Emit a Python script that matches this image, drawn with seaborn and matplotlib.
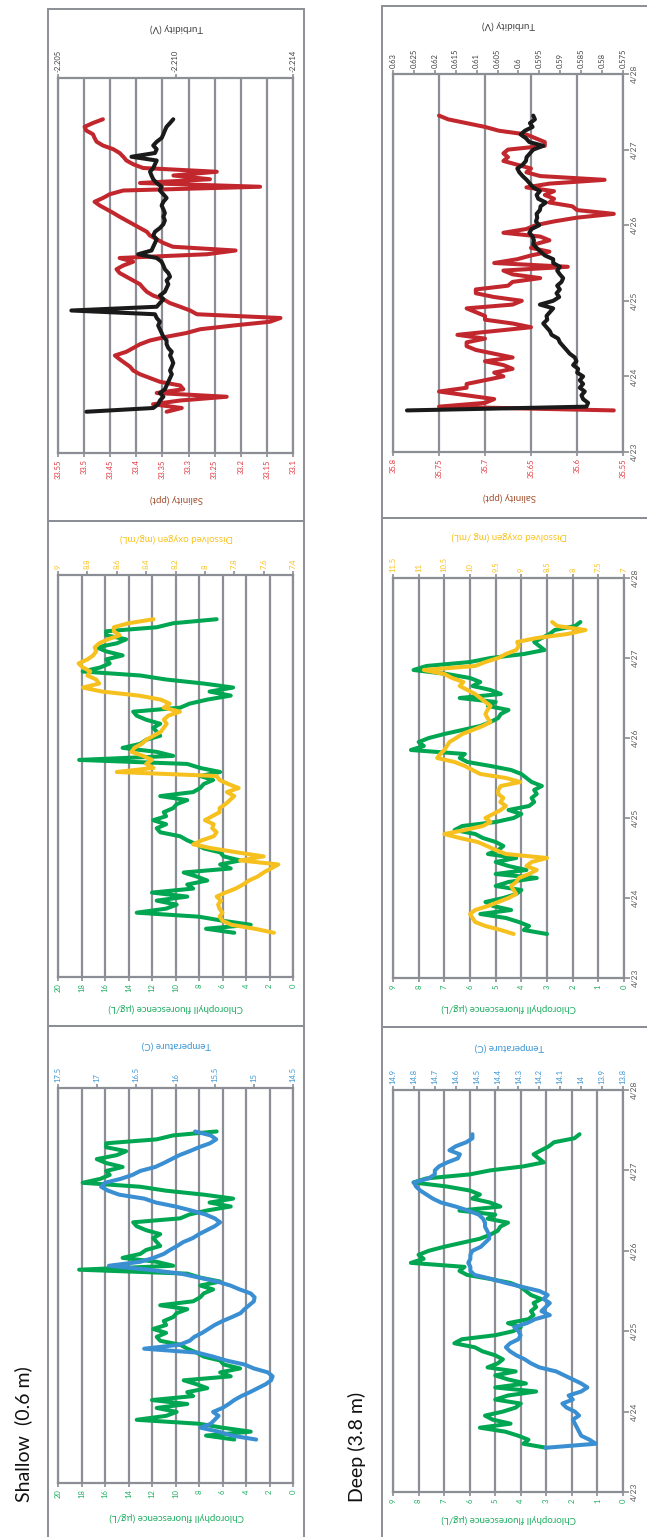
import numpy as np
import pandas as pd
import matplotlib
matplotlib.use("Agg")
import matplotlib.pyplot as plt
from matplotlib.patches import Rectangle
from matplotlib.ticker import FixedLocator, FixedFormatter
import seaborn as sns

sns.set_theme(style="white")
plt.rcParams["font.family"] = ["Lato", "DejaVu Sans"]

# logger readings, one every 72 min
times = pd.date_range("2013-04-23 13:12", periods=79, freq="72min")
date_ticks = pd.date_range("2013-04-23", "2013-04-28", freq="D")
date_labels = ["4/23", "4/24", "4/25", "4/26", "4/27", "4/28"]

# ---- shallow (0.6 m) ----
shallow_chl = [5.0, 7.4, 3.6, 6.0, 8.0, 13.3, 10.8, 9.9, 11.6, 9.0,
               12.0, 8.5, 9.0, 7.3, 8.2, 9.3, 5.3, 6.2, 4.5, 5.9,
               6.2, 7.6, 8.2, 9.0, 9.6, 11.3, 11.6, 10.8, 11.9, 10.8,
               11.0, 10.2, 9.9, 9.0, 11.3, 8.5, 7.9, 7.6, 6.8, 7.9,
               6.2, 7.9, 9.0, 18.2, 10.2, 11.6, 14.5, 13.0, 12.5, 11.3,
               11.6, 11.9, 11.3, 12.5, 13.3, 13.6, 9.6, 8.8, 7.3, 5.3,
               7.1, 5.1, 7.6, 10.8, 13.0, 17.9, 16.4, 15.6, 15.9, 14.5,
               15.9, 16.7, 15.0, 14.2, 15.9, 15.9, 11.6, 10.2, 6.5]
shallow_temp = [14.97, 15.28, 15.45, 15.68, 15.55, 15.5, 15.45, 15.52, 15.4, 15.32,
                15.25, 15.16, 15.05, 14.95, 14.85, 14.78, 14.76, 14.82, 15.0, 15.12,
                15.35, 15.52, 15.72, 16.4, 15.95, 15.82, 15.76, 15.66, 15.58, 15.5,
                15.4, 15.28, 15.17, 15.12, 15.06, 15.0, 14.99, 15.04, 15.18, 15.3,
                15.47, 15.7, 15.93, 16.35, 16.85, 16.45, 16.28, 16.15, 16.07, 15.98,
                15.9, 15.78, 15.7, 15.6, 15.5, 15.43, 15.5, 15.62, 15.8, 16.0,
                16.25, 16.4, 16.72, 16.86, 16.95, 16.9, 16.7, 16.55, 16.45, 16.26,
                16.15, 16.05, 15.95, 15.82, 15.7, 15.56, 15.48, 15.55, 15.75]
shallow_do = [7.53, 7.66, 7.82, 7.88, 7.9, 7.88, 7.9, 7.91, 7.89, 7.92,
              7.86, 7.79, 7.74, 7.7, 7.64, 7.6, 7.55, 7.5, 7.76, 7.6,
              7.78, 7.95, 8.08, 8.02, 7.94, 7.92, 7.95, 7.94, 8.0, 7.95,
              7.9, 7.9, 7.86, 7.83, 7.8, 7.85, 7.77, 7.84, 7.9, 7.92,
              8.6, 8.35, 8.4, 8.36, 8.42, 8.5, 8.48, 8.43, 8.4, 8.35,
              8.3, 8.28, 8.26, 8.28, 8.25, 8.17, 8.28, 8.24, 8.3, 8.45,
              8.7, 8.83, 8.72, 8.74, 8.8, 8.78, 8.83, 8.86, 8.8, 8.76,
              8.74, 8.75, 8.72, 8.66, 8.58, 8.62, 8.62, 8.52, 8.35]
shallow_sal = [33.342, 33.313, 33.368, 33.316, 33.227, 33.361, 33.31, 33.316, 33.355, 33.374,
               33.393, 33.406, 33.412, 33.422, 33.432, 33.441, 33.419, 33.406, 33.393, 33.374,
               33.342, 33.304, 33.278, 33.214, 33.144, 33.124, 33.284, 33.297, 33.316, 33.336,
               33.348, 33.368, 33.38, 33.387, 33.393, 33.406, 33.419, 33.432, 33.438, 33.425,
               33.406, 33.432, 33.265, 33.21, 33.33, 33.348, 33.361, 33.374, 33.38, 33.393,
               33.406, 33.419, 33.432, 33.444, 33.457, 33.47, 33.48, 33.464, 33.451, 33.425,
               33.163, 33.393, 33.259, 33.329, 33.246, 33.387, 33.406, 33.419, 33.425, 33.432,
               33.444, 33.464, 33.476, 33.48, 33.483, 33.496, 33.499, 33.483, 33.464]
shallow_turb = [-2.20615, -2.20885, -2.20905, -2.20912, -2.20926, -2.20912, -2.20932, -2.20939, -2.20946, -2.20953,
                -2.2096, -2.20953, -2.2096, -2.20966, -2.2096, -2.20953, -2.2096, -2.20946, -2.20939, -2.20939,
                -2.20926, -2.20919, -2.20912, -2.20905, -2.20912, -2.20899, -2.20892, -2.20554, -2.20899, -2.20912,
                -2.20926, -2.20912, -2.20932, -2.20939, -2.20946, -2.20939, -2.20953, -2.20946, -2.20932, -2.20926,
                -2.20919, -2.20899, -2.20824, -2.20878, -2.20885, -2.20892, -2.20899, -2.20885, -2.20892, -2.20912,
                -2.20926, -2.20932, -2.20926, -2.20932, -2.20926, -2.20919, -2.20926, -2.20939, -2.20926, -2.20912,
                -2.20919, -2.20899, -2.20885, -2.20878, -2.20872, -2.20885, -2.20892, -2.20899, -2.20797, -2.20892,
                -2.20899, -2.20885, -2.20899, -2.20919, -2.20926, -2.20932, -2.20939, -2.20953, -2.20966]

# ---- deep (3.8 m) ----
deep_chl = [3.0, 3.9, 3.7, 4.1, 4.6, 5.6, 4.4, 5.1, 5.4, 4.7,
            4.2, 4.0, 5.0, 4.5, 3.4, 5.0, 3.8, 4.5, 5.0, 4.2,
            5.3, 4.9, 4.7, 5.0, 5.5, 5.8, 6.6, 6.3, 5.0, 4.3,
            4.0, 4.5, 3.7, 3.5, 3.6, 3.4, 3.5, 3.2, 3.6, 3.8,
            4.0, 4.4, 5.2, 6.1, 6.4, 6.2, 8.3, 7.8, 8.0, 7.6,
            7.0, 6.3, 5.6, 5.2, 4.9, 4.8, 4.5, 5.3, 5.0, 6.4,
            4.8, 5.2, 5.9, 5.6, 6.0, 6.9, 8.2, 7.7, 6.0, 5.2,
            3.9, 3.1, 3.3, 3.5, 3.2, 2.9, 2.7, 1.9, 1.7]
deep_temp = [14.17, 13.93, 13.96, 14.0, 14.01, 14.02, 14.03, 14.04, 14.01, 14.03,
             14.07, 14.09, 14.04, 14.06, 14.0, 13.97, 14.0, 14.04, 14.08, 14.12,
             14.2, 14.24, 14.27, 14.31, 14.34, 14.36, 14.34, 14.3, 14.29, 14.3,
             14.32, 14.26, 14.22, 14.15, 14.19, 14.17, 14.15, 14.18, 14.16, 14.2,
             14.28, 14.36, 14.43, 14.51, 14.53, 14.53, 14.54, 14.53, 14.53, 14.52,
             14.48, 14.46, 14.44, 14.44, 14.45, 14.46, 14.46, 14.47, 14.49, 14.54,
             14.6, 14.67, 14.71, 14.74, 14.77, 14.79, 14.8, 14.73, 14.7, 14.7,
             14.68, 14.64, 14.59, 14.58, 14.63, 14.6, 14.55, 14.52, 14.52]
deep_do = [9.15, 9.4, 9.7, 9.9, 9.95, 10.0, 9.9, 9.65, 9.45, 9.25,
           9.1, 9.15, 9.2, 9.1, 9.05, 8.85, 8.7, 8.9, 8.8, 8.5,
           9.3, 9.5, 9.67, 9.85, 10.2, 10.5, 10.1, 9.75, 9.6, 9.7,
           9.55, 9.4, 9.3, 9.41, 9.35, 9.45, 9.45, 9.4, 9.02, 9.3,
           9.8, 9.95, 10.1, 10.3, 10.64, 10.58, 10.5, 10.45, 10.4, 10.27,
           10.15, 9.95, 9.75, 9.6, 9.66, 9.7, 9.66, 9.6, 9.7, 9.8,
           9.9, 10.05, 10.2, 10.13, 10.35, 10.5, 10.9, 9.9, 9.7, 9.45,
           9.3, 9.1, 9.05, 9.08, 8.7, 8.1, 7.75, 8.3, 8.4]
deep_sal = [35.56, 35.75, 35.70, 35.69, 35.72, 35.75, 35.72, 35.72, 35.70, 35.68,
            35.69, 35.67, 35.68, 35.70, 35.67, 35.69, 35.71, 35.72, 35.72, 35.70,
            35.73, 35.69, 35.65, 35.67, 35.70, 35.70, 35.71, 35.72, 35.67, 35.66,
            35.69, 35.71, 35.71, 35.675, 35.67, 35.64, 35.67, 35.68, 35.61, 35.69,
            35.665, 35.65, 35.63, 35.65, 35.645, 35.63, 35.64, 35.68, 35.655, 35.645,
            35.625, 35.60, 35.56, 35.60, 35.605, 35.63, 35.625, 35.635, 35.625, 35.655,
            35.63, 35.57, 35.64, 35.655, 35.65, 35.665, 35.68, 35.675, 35.68, 35.675,
            35.635, 35.635, 35.645, 35.655, 35.685, 35.70, 35.72, 35.74, 35.75]
deep_turb = [0.62666, 0.58374, 0.58335, 0.58454, 0.58493, 0.58414, 0.58533, 0.58454, 0.58533, 0.58454,
             0.58597, 0.58573, 0.58692, 0.58613, 0.58652, 0.58772, 0.58851, 0.58931, 0.5901, 0.5905,
             0.59209, 0.59249, 0.59328, 0.59407, 0.59312, 0.59328, 0.59249, 0.59169, 0.59487, 0.59169,
             0.59026, 0.5909, 0.5901, 0.59074, 0.5897, 0.58931, 0.5901, 0.59074, 0.5901, 0.59169,
             0.59169, 0.59368, 0.59471, 0.59566, 0.59646, 0.5963, 0.59662, 0.59741, 0.59686, 0.59503,
             0.59582, 0.59551, 0.59566, 0.59487, 0.59471, 0.59344, 0.59527, 0.59566, 0.59487, 0.59646,
             0.59725, 0.59805, 0.599, 0.5998, 0.60027, 0.599, 0.59821, 0.59805, 0.59725, 0.59646,
             0.59407, 0.59741, 0.59821, 0.59948, 0.59845, 0.59662, 0.59725, 0.59606, 0.59646]

# axis ticks
shallow_chl_ticks = [0, 2, 4, 6, 8, 10, 12, 14, 16, 18, 20]
shallow_temp_ticks = [14.5, 15, 15.5, 16, 16.5, 17, 17.5]
shallow_do_ticks = [7.4, 7.6, 7.8, 8, 8.2, 8.4, 8.6, 8.8, 9]
shallow_sal_ticks = [33.1, 33.15, 33.2, 33.25, 33.3, 33.35, 33.4, 33.45, 33.5, 33.55]
shallow_turb_ticks = [-2.2145, -2.20975, -2.205]
shallow_turb_labels = ["-2.214", "-2.210", "-2.205"]
deep_chl_ticks = [0, 1, 2, 3, 4, 5, 6, 7, 8, 9]
deep_temp_ticks = [13.8, 13.9, 14, 14.1, 14.2, 14.3, 14.4, 14.5, 14.6, 14.7, 14.8, 14.9]
deep_do_ticks = [7, 7.5, 8, 8.5, 9, 9.5, 10, 10.5, 11, 11.5]
deep_sal_ticks = [35.55, 35.6, 35.65, 35.7, 35.75, 35.8]
deep_turb_ticks = [0.575, 0.58, 0.585, 0.59, 0.595, 0.6, 0.605, 0.61, 0.615, 0.62, 0.625, 0.63]

GREEN, GREEN_T = "#00a651", "#1fae62"
BLUE, BLUE_T = "#3a8fd2", "#3b96d6"
GOLD, GOLD_T = "#f6c11f", "#f9c21e"
RED, RED_T = "#c1272d", "#e2363f"
BLACK, BLACK_T = "#1a1a1a", "#404040"
SAL_TITLE = "#a3502f"
GRID = "#8b8e94"
LW = 2.9

W, H = 647, 1537
fig = plt.figure(figsize=(W / 100, H / 100), dpi=100)


def gl(v):
    return [f"{t:g}" for t in v]


def draw_panel(box, p_vals, p_ticks, p_labels, p_color, p_text,
               s_vals, s_ticks, s_labels, s_color, s_text, show_dates):
    x0, y0, x1, y1 = box
    ax = fig.add_axes([x0 / W, 1 - y1 / H, (x1 - x0) / W, (y1 - y0) / H])
    ax.set_facecolor("none")
    sns.lineplot(x=p_vals, y=times, sort=False, estimator=None,
                 color=p_color, lw=LW, ax=ax)
    ax.set_xlim(max(p_ticks), min(p_ticks))
    ax.xaxis.set_major_locator(FixedLocator(p_ticks))
    ax.xaxis.set_major_formatter(FixedFormatter(p_labels))
    ax.grid(True, axis="x", color=GRID, lw=1.6)
    ax.grid(False, axis="y")
    ax.set_axisbelow(True)
    for sp in ax.spines.values():
        sp.set_color(GRID)
        sp.set_linewidth(1.6)
    ax.tick_params(axis="x", direction="out", length=3, width=1.2, color=GRID,
                   labelsize=5.5, labelcolor=p_text, labelrotation=90, pad=1.5,
                   bottom=True)
    ax.set_xlabel("")
    ax.set_ylabel("")

    ax2 = ax.twiny()
    sns.lineplot(x=s_vals, y=times, sort=False, estimator=None,
                 color=s_color, lw=LW, ax=ax2)
    ax2.set_xlim(max(s_ticks), min(s_ticks))
    ax2.xaxis.set_major_locator(FixedLocator(s_ticks))
    ax2.xaxis.set_major_formatter(FixedFormatter(s_labels))
    ax2.grid(False)
    for sp in ax2.spines.values():
        sp.set_visible(False)
    ax2.tick_params(axis="x", direction="out", length=3, width=1.2, color=GRID,
                    labelsize=5.5, labelcolor=s_text, labelrotation=90, pad=1.5,
                    top=True)
    ax2.set_xlabel("")
    ax2.set_ylabel("")

    ax.set_ylim(date_ticks[0], date_ticks[-1])
    if show_dates:
        ax.yaxis.tick_right()
        ax.set_yticks(date_ticks, labels=date_labels, rotation=90, va="center")
        ax.tick_params(axis="y", direction="out", length=4, width=1.2, color=GRID,
                       labelsize=6, labelcolor="#595959", pad=2, right=True)
    else:
        ax.set_yticks(date_ticks)
        ax.tick_params(axis="y", left=False, right=False,
                       labelleft=False, labelright=False)
    return ax


def title_at(x, y, text, color, size=7):
    fig.text(x / W, 1 - y / H, text, rotation=180, ha="center", va="center",
             color=color, fontsize=size)


def frame(x0, y0, x1, y1):
    fig.add_artist(Rectangle((x0 / W, 1 - y1 / H), (x1 - x0) / W, (y1 - y0) / H,
                             transform=fig.transFigure, fill=False,
                             edgecolor=GRID, lw=1.4))


# chart borders
for (a, b) in [(9, 521), (521, 1026), (1026, 1545)]:
    frame(48, a, 304, b)
for (a, b) in [(6, 518), (518, 1027), (1027, 1545)]:
    frame(382, a, 660, b)

# shallow column
draw_panel((58, 78, 293, 453), shallow_sal, shallow_sal_ticks, gl(shallow_sal_ticks), RED, RED_T,
           shallow_turb, shallow_turb_ticks, shallow_turb_labels, BLACK, BLACK_T, False)
draw_panel((58, 575, 293, 977), shallow_chl, shallow_chl_ticks, gl(shallow_chl_ticks), GREEN, GREEN_T,
           shallow_do, shallow_do_ticks, gl(shallow_do_ticks), GOLD, GOLD_T, False)
draw_panel((58, 1088, 293, 1483), shallow_chl, shallow_chl_ticks, gl(shallow_chl_ticks), GREEN, GREEN_T,
           shallow_temp, shallow_temp_ticks, gl(shallow_temp_ticks), BLUE, BLUE_T, False)

# deep column
draw_panel((393, 74, 623, 452), deep_sal, deep_sal_ticks, gl(deep_sal_ticks), RED, RED_T,
           deep_turb, deep_turb_ticks, gl(deep_turb_ticks), BLACK, BLACK_T, True)
draw_panel((393, 578, 624, 978), deep_chl, deep_chl_ticks, gl(deep_chl_ticks), GREEN, GREEN_T,
           deep_do, deep_do_ticks, gl(deep_do_ticks), GOLD, GOLD_T, True)
draw_panel((393, 1090, 623, 1492), deep_chl, deep_chl_ticks, gl(deep_chl_ticks), GREEN, GREEN_T,
           deep_temp, deep_temp_ticks, gl(deep_temp_ticks), BLUE, BLUE_T, True)

# axis titles
title_at(176, 28, "Turbidity (V)", BLACK_T)
title_at(176, 499, "Salinity (ppt)", SAL_TITLE)
title_at(176, 538, "Dissolved oxygen (mg/mL)", GOLD_T)
title_at(176, 1008, "Chlorophyll fluorescence (µg/L)", GREEN_T)
title_at(176, 1045, "Temperature (C)", BLUE_T)
title_at(177, 1517, "Chlorophyll fluorescence (µg/L)", GREEN_T)

title_at(508, 25, "Turbidity (V)", BLACK_T)
title_at(509, 497, "Salinity (ppt)", SAL_TITLE)
title_at(509, 536, "Dissolved oxygen (mg /mL)", GOLD_T)
title_at(509, 1008, "Chlorophyll fluorescence (µg/L)", GREEN_T)
title_at(509, 1047, "Temperature (C)", BLUE_T)
title_at(509, 1519, "Chlorophyll fluorescence (µg/L)", GREEN_T)

fig.text(23 / W, 1 - 1502 / H, "Shallow  (0.6 m)", rotation=90, ha="center", va="bottom",
         fontsize=14, color="#111111")
fig.text(357 / W, 1 - 1502 / H, "Deep (3.8 m)", rotation=90, ha="center", va="bottom",
         fontsize=14, color="#111111")

fig.savefig("out.png", dpi=100)
